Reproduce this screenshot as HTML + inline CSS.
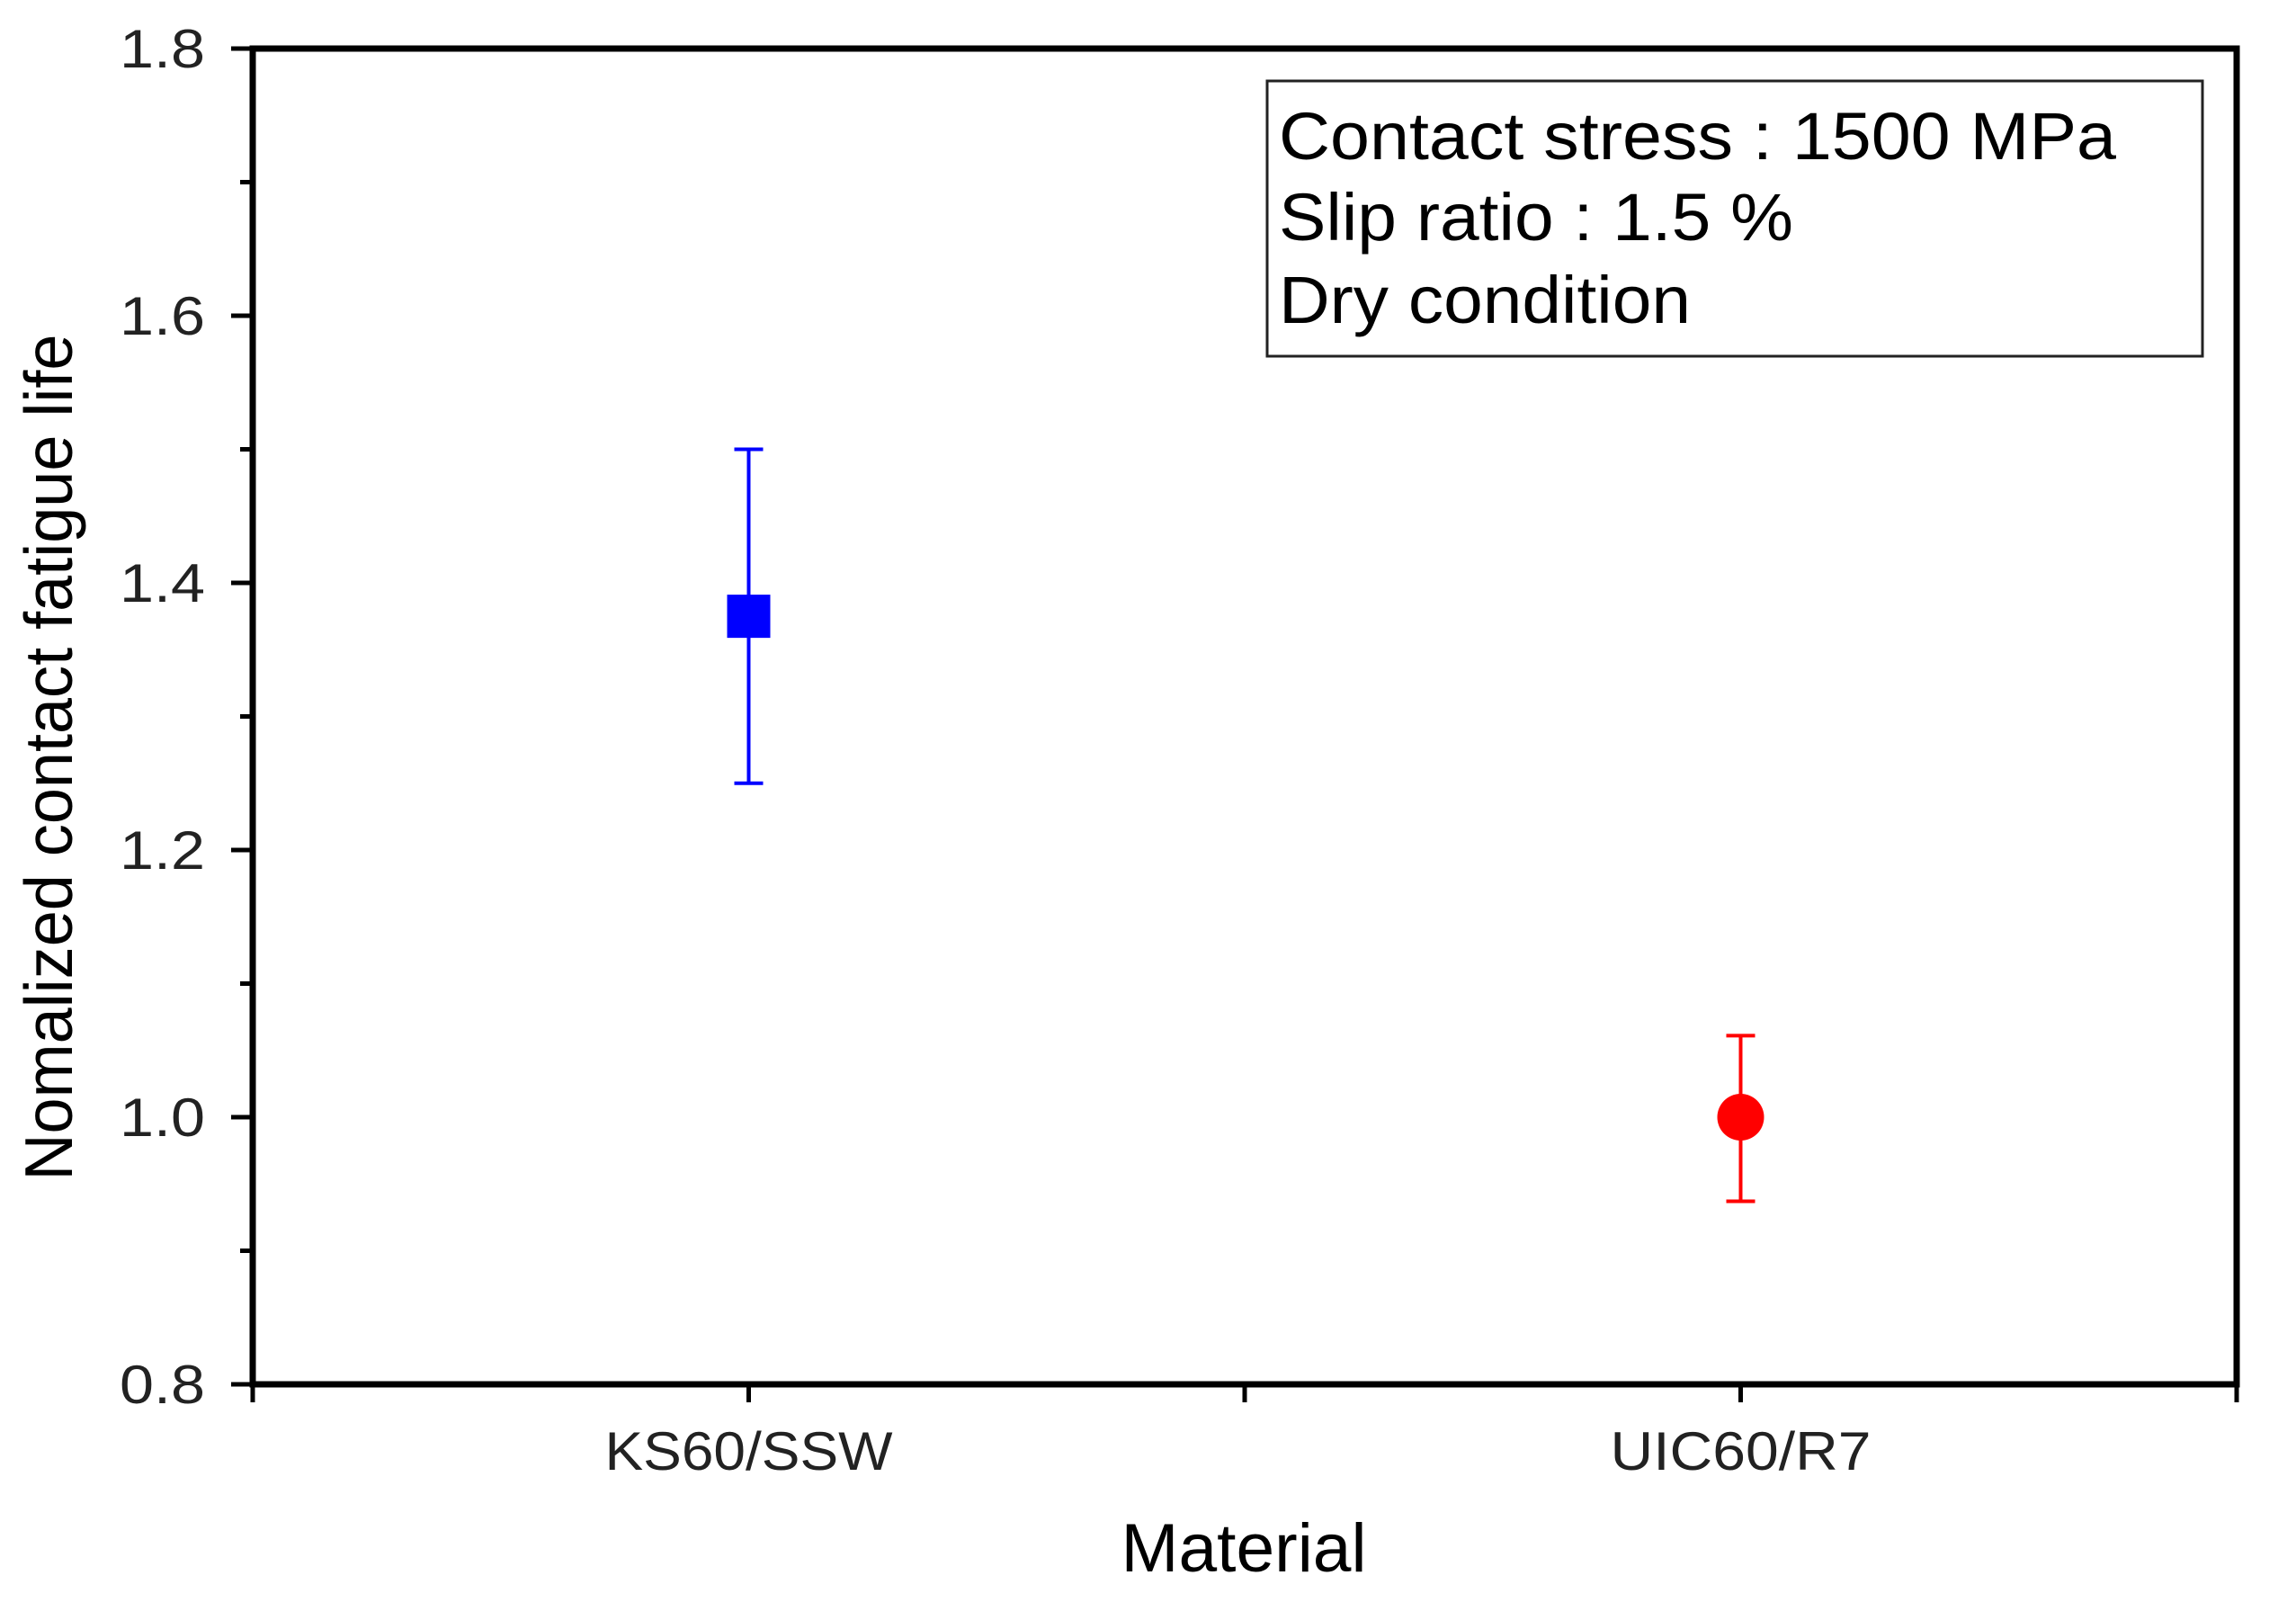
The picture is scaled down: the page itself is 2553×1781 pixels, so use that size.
<!DOCTYPE html>
<html><head><meta charset="utf-8"><style>
html,body{margin:0;padding:0;background:#fff;}
svg{display:block;font-family:"Liberation Sans",Arial,sans-serif;}
</style></head><body>
<svg id="chart" width="2553" height="1781" viewBox="0 0 2553 1781" xmlns="http://www.w3.org/2000/svg">
<rect width="2553" height="1781" fill="#fff"/>
<g id="axes"></g>
<g id="marks"></g>
<g>
<rect x="1409" y="90" width="1040" height="306" fill="#fff" stroke="#222" stroke-width="3"/>
<text x="1422" y="177" font-size="74" textLength="931" lengthAdjust="spacingAndGlyphs">Contact stress : 1500 MPa</text>
<text x="1422" y="267" font-size="74" textLength="572" lengthAdjust="spacingAndGlyphs">Slip ratio : 1.5 %</text>
<text x="1422" y="359" font-size="74" textLength="458" lengthAdjust="spacingAndGlyphs">Dry condition</text>
</g>
<text x="1383" y="1747" font-size="76" text-anchor="middle" textLength="273" lengthAdjust="spacingAndGlyphs">Material</text>
<text transform="translate(80,842) rotate(-90)" font-size="75" text-anchor="middle" textLength="941" lengthAdjust="spacingAndGlyphs">Nomalized contact fatigue life</text>
</svg>
<script>
const categories = ["KS60/SSW", "UIC60/R7"];
const values = [1.375, 1.0];
const errLow = [1.25, 0.937];
const errHigh = [1.50, 1.061];
const colors = ["#0000ff", "#ff0000"];
const yTicks = [0.8, 1.0, 1.2, 1.4, 1.6, 1.8];
const yTickLabels = ["0.8", "1.0", "1.2", "1.4", "1.6", "1.8"];

const L = 281, R = 2487, T = 54, B = 1539;
const yMin = 0.8, yMax = 1.8, xMin = 0.5, xMax = 2.5;
const ys = v => B - (v - yMin) / (yMax - yMin) * (B - T);
const xs = i => L + ((i + 1) - xMin) / (xMax - xMin) * (R - L);
const NS = "http://www.w3.org/2000/svg";
function mk(tag, attrs, parent) {
  const e = document.createElementNS(NS, tag);
  for (const k in attrs) e.setAttribute(k, attrs[k]);
  parent.appendChild(e);
  return e;
}
const ax = document.getElementById("axes");
const mg = document.getElementById("marks");

const frame = mk("rect", {x: L, y: T, width: R - L, height: B - T, fill: "none", stroke: "#000", "stroke-width": 7}, ax);



for (let k = 0; k <= 10; k++) {
  const v = 0.8 + k * 0.1;
  const major = k % 2 === 0;
  const t = mk("line", {x1: L - (major ? 24 : 14), x2: L, y1: ys(v), y2: ys(v), stroke: "#000", "stroke-width": 5}, ax);
  
  
}
yTicks.forEach((v, i) => {
  const t = mk("text", {x: 228, y: ys(v) + 21, "font-size": 60, "text-anchor": "end", fill: "#222", textLength: 95, lengthAdjust: "spacingAndGlyphs"}, ax);
  t.textContent = yTickLabels[i];
  
  
});
for (let k = 0; k <= 4; k++) {
  const xv = 0.5 + k * 0.5;
  const px = L + (xv - xMin) / (xMax - xMin) * (R - L);
  const t = mk("line", {x1: px, x2: px, y1: B, y2: B + 20, stroke: "#000", "stroke-width": 5}, ax);
  
  
}
const xLabelLens = [320, 290];
categories.forEach((c, i) => {
  const t = mk("text", {x: xs(i), y: 1634, "font-size": 60, "text-anchor": "middle", fill: "#222", textLength: xLabelLens[i], lengthAdjust: "spacingAndGlyphs"}, ax);
  t.textContent = c;
  
  
});

values.forEach((v, i) => {
  const x = xs(i), col = colors[i];
  const g = mk("g", {}, mg);
  
  
  const e = mk("line", {x1: x, x2: x, y1: ys(errLow[i]), y2: ys(errHigh[i]), stroke: col, "stroke-width": 4}, g);
  
  
  [errLow[i], errHigh[i]].forEach(ev => {
    const c = mk("line", {x1: x - 16, x2: x + 16, y1: ys(ev), y2: ys(ev), stroke: col, "stroke-width": 4}, g);
    
    
  });
  let m;
  if (i === 0) m = mk("rect", {x: x - 24, y: ys(v) - 24, width: 48, height: 48, fill: col}, g);
  else m = mk("circle", {cx: x, cy: ys(v), r: 26, fill: col}, g);
  
  
});
</script>
</body></html>
